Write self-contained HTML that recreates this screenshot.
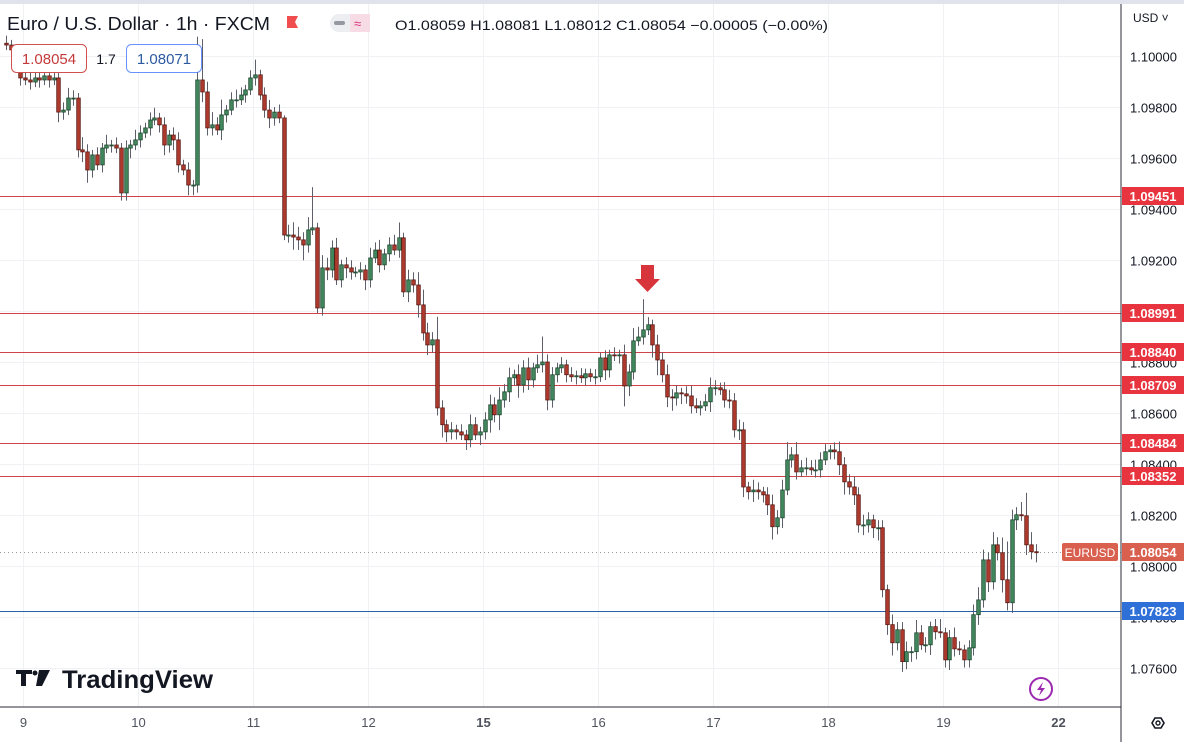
<!DOCTYPE html>
<html><head><meta charset="utf-8"><style>
html,body{margin:0;padding:0;background:#fff;}
svg{display:block;font-family:"Liberation Sans",sans-serif;}
</style></head><body>
<svg id="chart" width="1184" height="742" viewBox="0 0 1184 742" xmlns="http://www.w3.org/2000/svg">
<rect x="0" y="0" width="1184" height="742" fill="#ffffff"/>
<rect x="0" y="0" width="1184" height="4" fill="#e0e3eb"/>
<g id="grid"></g>
<g id="levels"></g>
<g id="candles"></g>
<line x1="1121" y1="4" x2="1121" y2="742" stroke="#2a2e39" stroke-width="1"/>
<line x1="0" y1="707" x2="1121" y2="707" stroke="#2a2e39" stroke-width="1"/>
<g id="yaxis"></g>
<g id="xaxis"></g>
<g id="tags"></g>

<text x="7" y="30" font-size="18" textLength="263" lengthAdjust="spacingAndGlyphs" fill="#131722">Euro / U.S. Dollar · 1h · FXCM</text>
<path d="M287 16 h11 l-3 6 l3 6 h-11 z" fill="#f04e4e"/>
<rect x="330" y="14" width="40" height="18" rx="9" fill="#eceef2"/>
<rect x="350" y="14" width="20" height="18" rx="0" fill="#f7dbe5"/>
<rect x="334" y="21" width="11" height="4" rx="2" fill="#9598a1"/>
<text x="354" y="28" font-size="13" fill="#d6307a">≈</text>
<text x="395" y="30" font-size="14" textLength="433" lengthAdjust="spacingAndGlyphs" fill="#131722">O1.08059 H1.08081 L1.08012 C1.08054 −0.00005 (−0.00%)</text>
<rect x="11.5" y="44.5" width="75" height="28" rx="5" fill="#fff" stroke="#d05050"/>
<text x="49" y="64" font-size="15" fill="#c43a3a" text-anchor="middle">1.08054</text>
<text x="106" y="64" font-size="14" fill="#131722" text-anchor="middle">1.7</text>
<rect x="126.5" y="44.5" width="75" height="28" rx="5" fill="#fff" stroke="#2962ff" stroke-opacity="0.7"/>
<text x="164" y="64" font-size="15" fill="#2c5aa0" text-anchor="middle">1.08071</text>
<text x="1133" y="22" font-size="12" fill="#131722">USD ˅</text>

<path d="M641 265 h13 v14 h6 l-12.5 13 l-12.5 -13 h6 z" fill="#d8343c"/>

<g>
<path d="M16 670 h16 v4 h-6 v12 h-5 v-12 h-5 z" fill="#131722"/>
<circle cx="35" cy="673" r="2.5" fill="#131722"/>
<path d="M39 670 h11 l-8 16 h-6 z" fill="#131722"/>
<text x="62" y="688" font-size="25" font-weight="bold" textLength="151" lengthAdjust="spacingAndGlyphs" fill="#131722">TradingView</text>
</g>
<circle cx="1041" cy="689" r="11" fill="none" stroke="#9c27b0" stroke-width="2"/>
<path d="M1043 682 l-6 8 h4 l-2 6 l6 -8 h-4 z" fill="#9c27b0"/>
<path d="M1152 723 l3 -5 h6 l3 5 l-3 5 h-6 z" fill="none" stroke="#131722" stroke-width="1.6"/>
<circle cx="1158" cy="723" r="2" fill="none" stroke="#131722" stroke-width="1.4"/>
</svg>
<script>
const closes = [
1.10043,1.10024,1.10004,1.09914,1.09906,1.09898,1.09914,1.09906,1.09922,1.09906,1.09914,1.09780,1.09788,1.09835,1.09835,1.09632,1.09624,1.09553,1.09612,1.09573,1.09639,1.09651,1.09651,1.09639,
1.09463,1.09639,1.09651,1.09671,1.09698,1.09718,1.09749,1.09757,1.09730,1.09651,1.09690,1.09671,1.09573,1.09553,1.09494,1.09494,1.09906,1.09859,1.09718,1.09730,1.09710,1.09769,1.09788,1.09828,
1.09828,1.09847,1.09867,1.09914,1.09926,1.09847,1.09788,1.09757,1.09780,1.09757,1.09298,1.09298,1.09290,1.09279,1.09259,1.09318,1.09326,1.09012,1.09169,1.09161,1.09247,1.09122,1.09181,1.09169,
1.09153,1.09153,1.09161,1.09122,1.09208,1.09239,1.09181,1.09224,1.09259,1.09239,1.09287,1.09075,1.09122,1.09102,1.09024,1.08914,1.08867,1.08887,1.08620,1.08554,1.08526,1.08534,1.08526,1.08514,
1.08495,1.08554,1.08514,1.08526,1.08573,1.08632,1.08593,1.08651,1.08683,1.08738,1.08750,1.08710,1.08777,1.08730,1.08777,1.08789,1.08800,1.08651,1.08750,1.08777,1.08789,1.08750,1.08742,1.08746,
1.08738,1.08754,1.08742,1.08742,1.08816,1.08769,1.08828,1.08824,1.08828,1.08706,1.08761,1.08883,1.08898,1.08926,1.08946,1.08867,1.08808,1.08750,1.08663,1.08659,1.08679,1.08675,1.08667,1.08628,
1.08620,1.08628,1.08644,1.08699,1.08699,1.08691,1.08651,1.08648,1.08534,1.08534,1.08310,1.08291,1.08298,1.08291,1.08279,1.08240,1.08154,1.08189,1.08298,1.08416,1.08436,1.08369,1.08385,1.08385,
1.08377,1.08377,1.08416,1.08448,1.08455,1.08448,1.08397,1.08330,1.08310,1.08279,1.08161,1.08161,1.08181,1.08150,1.08150,1.07907,1.07770,1.07699,1.07750,1.07625,1.07664,1.07664,1.07738,1.07691,
1.07691,1.07762,1.07742,1.07738,1.07632,1.07719,1.07675,1.07671,1.07632,1.07679,1.07809,1.07867,1.08024,1.07938,1.08083,1.08052,1.07946,1.07856,1.08181,1.08201,1.08197,1.08083,1.08056,1.08054
];
const firstOpen = 1.10050;
// wick extensions beyond the body, in pips
const wickHi = [
3,2,2,3,2,4,2,3,2,2,3,2,3,4,3,2,5,3,2,3,2,4,2,3,
2,3,2,4,3,2,3,4,2,3,2,3,3,2,3,2,17,16,4,5,3,6,2,3,
4,3,2,3,6,2,3,4,2,3,1,4,5,4,3,5,16,2,5,4,3,4,2,3,
3,2,3,2,4,3,4,2,3,4,6,2,4,3,5,6,4,3,9,3,2,3,2,3,
2,4,3,2,3,4,3,5,3,4,2,4,3,4,2,4,10,3,3,2,3,2,3,2,
3,2,2,3,2,3,2,3,2,4,3,5,4,12,3,2,4,3,4,3,3,2,3,4,
3,2,3,4,3,2,3,4,3,4,3,2,4,3,2,3,4,3,4,7,3,5,3,4,
3,4,3,3,2,3,4,3,3,4,3,4,3,2,3,3,2,4,3,3,4,2,5,3,
3,2,3,5,2,3,4,3,2,3,4,5,4,3,5,3,6,15,4,3,5,9,5,3
];
const wickLo = [
2,3,2,3,2,3,2,3,2,3,2,4,3,2,3,3,4,5,3,2,3,2,3,2,
3,3,4,2,3,2,3,2,3,4,3,4,3,2,4,4,3,4,3,3,2,4,3,2,
3,2,3,2,3,2,3,4,3,2,2,3,5,4,6,3,2,2,3,4,3,2,3,4,
3,2,3,4,3,2,3,2,3,2,3,2,4,3,5,3,4,3,3,5,4,3,3,2,
4,3,2,4,3,5,3,6,3,4,3,5,3,4,3,2,3,4,3,3,2,3,2,3,
2,3,2,3,2,4,3,2,3,8,4,3,2,3,2,5,6,3,4,5,3,4,3,3,
2,3,2,4,3,2,3,3,3,4,4,3,4,3,3,4,5,3,4,2,3,3,2,3,
2,3,3,2,3,3,4,5,3,4,3,4,3,4,5,3,4,5,3,4,3,4,3,2,
3,4,3,2,3,4,3,2,3,3,3,4,3,4,3,3,5,3,4,4,2,4,3,4
];
const priceTicks = ["1.10000","1.09800","1.09600","1.09400","1.09200","1.09000","1.08800","1.08600","1.08400","1.08200","1.08000","1.07800","1.07600"];
const dayLabels = ["9","10","11","12","15","16","17","18","19","22"];
const dayStartIndex = [4,28,52,76,100,124,148,172,196,220];
const levelValues = [1.09451,1.08991,1.08840,1.08709,1.08484,1.08352];
const supportValue = 1.07823;
const lastPrice = 1.08054;

const NS = "http://www.w3.org/2000/svg";
const pipSize = 0.0001;
function y(p){ return 56 + (1.1 - p) / 0.002 * 51; }
function x(i){ return 5.8 + 4.79 * i; }
function el(tag, attrs, parent){
  const e = document.createElementNS(NS, tag);
  for (const k in attrs) e.setAttribute(k, attrs[k]);
  parent.appendChild(e);
  return e;
}
const grid = document.getElementById('grid');
const yaxis = document.getElementById('yaxis');
const xaxis = document.getElementById('xaxis');
const levels = document.getElementById('levels');
const candles = document.getElementById('candles');
const tags = document.getElementById('tags');

priceTicks.forEach(t => {
  const yy = Math.round(y(parseFloat(t))) + 0.5;
  const g = el('line', {x1:0, x2:1121, y1:yy, y2:yy, stroke:'#f0f1f4', 'stroke-width':1}, grid);
  
  
  const tx = el('text', {x:1130, y:yy+5, 'font-size':13, fill:'#131722'}, yaxis);
  tx.textContent = t;
  
  
});
dayLabels.forEach((d, k) => {
  const xx = Math.round(x(dayStartIndex[k]) - 4.79*0.5 + 0.8) + 0.5;
  const g = el('line', {x1:xx, x2:xx, y1:4, y2:707, stroke:'#f0f1f4', 'stroke-width':1}, grid);
  
  
  const bold = (d === "15" || d === "22");
  const tx = el('text', {x:xx, y:727, 'font-size':13, fill:'#50535e', 'font-weight':bold?'bold':'normal', 'text-anchor':'middle'}, xaxis);
  tx.textContent = d;
  
  
});

function hline(v, color, name, dotted){
  const yy = Math.round(y(v)) + 0.5;
  const l = el('line', {x1:0, x2:1121, y1:yy, y2:yy, stroke:color, 'stroke-width':1}, levels);
  if (dotted) l.setAttribute('stroke-dasharray', '1,3');
  
  
  return yy;
}
function tag(v, color, name){
  const yy = Math.round(y(v));
  const r = el('rect', {x:1122, y:yy-9, width:62, height:18, fill:color}, tags);
  
  
  const t = el('text', {x:1153, y:yy+5, 'font-size':13, 'font-weight':'bold', fill:'#fff', 'text-anchor':'middle'}, tags);
  t.textContent = v.toFixed(5);
  
  
}
levelValues.forEach(v => { hline(v, '#d0434a', 'resistance-line'); tag(v, '#e8343f', 'level-tag'); });
hline(supportValue, '#2962a8', 'support-line');
tag(supportValue, '#2e6fd8', 'support-tag');
hline(lastPrice, '#9a9a9a', 'last-price-line', true);
(function(){
  const yy = Math.round(y(lastPrice));
  const r = el('rect', {x:1062, y:yy-9, width:56, height:18, rx:2, fill:'#d9604f'}, tags);
  
  
  const t = el('text', {x:1090, y:yy+5, 'font-size':12, fill:'#fff', 'text-anchor':'middle'}, tags);
  t.textContent = 'EURUSD';
  
  
  tag(lastPrice, '#d9604f', 'last-price-tag');
})();

closes.forEach((c, i) => {
  const o = i === 0 ? firstOpen : closes[i-1];
  const top = Math.max(o, c), bot = Math.min(o, c);
  const hi = top + wickHi[i] * pipSize;
  const lo = bot - wickLo[i] * pipSize;
  const up = c >= o;
  const cx = Math.round(x(i)) + 0.5;
  const w = el('line', {x1:cx, x2:cx, y1:y(hi), y2:y(lo), stroke:'#5d606b', 'stroke-width':1}, candles);
  
  
  const by = y(top), bh = Math.max(1, y(bot) - y(top));
  const b = el('rect', {x:cx-1.8, y:by, width:3.6, height:bh, fill:up?'#43875e':'#b0392e', stroke:up?'#1f4a30':'#5c1b15', 'stroke-width':0.8}, candles);
  
  
});
</script>
</body></html>
